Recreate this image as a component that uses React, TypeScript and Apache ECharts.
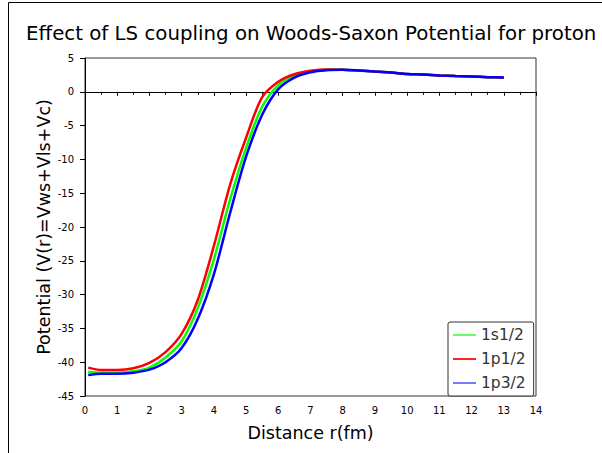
import React, { useEffect, useRef } from "react";
import * as echarts from "echarts";

const rValues = [0.1, 0.5, 1, 1.5, 2, 2.5, 3, 3.5, 4, 4.5, 5, 5.5, 6, 6.5, 7, 7.5, 8, 8.5, 9, 9.5, 10, 10.5, 11, 11.5, 12, 12.5, 13];
const s12 = [-41.4, -41.55, -41.55, -41.35, -40.8, -39.3, -36.9, -32.0, -24.8, -16.0, -8.3, -2.2, 1.0, 2.4, 3.0, 3.25, 3.25, 3.15, 3.0, 2.85, 2.65, 2.55, 2.42, 2.33, 2.25, 2.17, 2.1];
const p12 = [-40.8, -41.15, -41.15, -40.9, -40.1, -38.5, -35.8, -30.8, -22.8, -13.8, -6.8, -0.8, 1.5, 2.6, 3.1, 3.3, 3.25, 3.15, 3.0, 2.85, 2.65, 2.55, 2.42, 2.33, 2.25, 2.17, 2.1];
const p32 = [-41.9, -41.7, -41.7, -41.55, -41.1, -40.0, -37.9, -33.6, -27.0, -18.0, -9.6, -3.4, 0.4, 2.1, 2.9, 3.2, 3.25, 3.15, 3.0, 2.85, 2.65, 2.55, 2.42, 2.33, 2.25, 2.17, 2.1];
const seriesNames = ["1s1/2", "1p1/2", "1p3/2"];
const seriesColors = ["#00ff00", "#ff0000", "#0000ff"];
const legendColors = ["#66ff66", "#ff2222", "#7777ff"];

const FONT = "DejaVu Sans";

export default function App() {
  const ref = useRef<HTMLDivElement>(null);
  useEffect(() => {
    if (!ref.current) return;
    const chart = echarts.init(ref.current, undefined, { renderer: "svg" });
    const allValues = [s12, p12, p32];
    chart.setOption({
      animation: false,
      backgroundColor: "#ffffff",
      textStyle: { fontFamily: FONT },
      title: {
        text: "Effect of LS coupling on Woods-Saxon Potential for proton",
        left: 21,
        top: 18,
        textStyle: { fontFamily: FONT, fontSize: 19.8, fontWeight: "normal", color: "#000" },
      },
      graphic: [
        {
          type: "rect",
          shape: { x: 8.5, y: 2.5, width: 700, height: 600 },
          style: { fill: "none", stroke: "#000", lineWidth: 1 },
          silent: true,
        },
      ],
      grid: {
        left: 85,
        right: 66,
        top: 58,
        bottom: 57,
        show: true,
        borderColor: "#333",
        borderWidth: 1,
        backgroundColor: "transparent",
      },
      legend: {
        orient: "vertical",
        left: 448,
        top: 322,
        width: 84,
        padding: [5, 8, 5, 5],
        itemGap: 8,
        itemWidth: 23,
        itemHeight: 2,
        icon: "rect",
        borderColor: "#333",
        borderWidth: 1,
        borderRadius: 2,
        backgroundColor: "#fff",
        textStyle: { fontFamily: FONT, fontSize: 15.5, color: "#333" },
        data: seriesNames.map((n, i) => ({ name: n, itemStyle: { color: legendColors[i] } })),
      },
      xAxis: {
        type: "value",
        min: 0,
        max: 14,
        interval: 1,
        name: "Distance r(fm)",
        nameLocation: "middle",
        nameGap: 28,
        nameMoveOverlap: false,
        nameTextStyle: { fontFamily: FONT, fontSize: 17.5, color: "#000" },
        axisLine: { lineStyle: { color: "#000", width: 1 } },
        axisTick: { show: true, inside: false, length: 4, lineStyle: { color: "#000" } },
        minorTick: { show: true, splitNumber: 2, length: 3, lineStyle: { color: "#000" } },
        axisLabel: { fontFamily: FONT, fontSize: 10, color: "#000", margin: 9 },
        splitLine: { show: false },
      },
      yAxis: {
        type: "value",
        min: -45,
        max: 5,
        interval: 5,
        name: "Potential (V(r)=Vws+Vls+Vc)",
        nameLocation: "middle",
        nameGap: 32,
        nameMoveOverlap: false,
        nameTextStyle: { fontFamily: FONT, fontSize: 17.5, color: "#000" },
        axisLine: { show: true, lineStyle: { color: "#000", width: 1 } },
        axisTick: { show: true, inside: false, length: 5, lineStyle: { color: "#000" } },
        axisLabel: { fontFamily: FONT, fontSize: 10, color: "#000", margin: 11 },
        splitLine: { show: false },
      },
      series: seriesNames.map((n, i) => ({
        name: n,
        type: "line",
        data: rValues.map((r, k) => [r, allValues[i][k]]),
        showSymbol: false,
        symbol: "none",
        smooth: 0.3,
        lineStyle: { color: seriesColors[i], width: 2.5 },
        itemStyle: { color: seriesColors[i] },
        z: 2 + i,
      })),
    });
    return () => chart.dispose();
  }, []);
  return <div ref={ref} style={{ position: "absolute", left: 0, top: 0, width: 602, height: 453 }} />;
}
